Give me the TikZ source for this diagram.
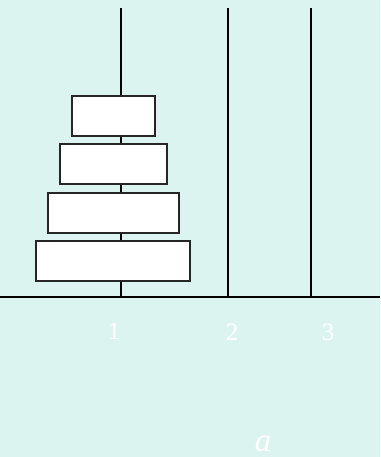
\documentclass[tikz,border=0pt]{standalone}
\usepackage{fontspec}
\setmainfont{Liberation Serif}
\definecolor{bgc}{RGB}{220,244,240}
\begin{document}
\begin{tikzpicture}[x=1pt,y=-1pt,
  disk/.style={draw=black!85,line width=2pt,fill=white,inner sep=0pt,minimum height=40pt},
  pole/.style={line width=2.6pt,black},
  lbl/.style={text=white,font=\fontsize{25}{25}\selectfont,inner sep=0pt}]
\fill[bgc] (0,0) rectangle (380,457);
\useasboundingbox (0,0) rectangle (380,457);
% poles
\coordinate (p1t) at (121,8); \coordinate (p1b) at (121,297);
\coordinate (p2t) at (228,8); \coordinate (p2b) at (228,297);
\coordinate (p3t) at (311,8); \coordinate (p3b) at (311,297);
\coordinate (bl) at (0,297); \coordinate (br) at (380,297);
\draw[pole] (p1t) -- (p1b);
\draw[pole] (p2t) -- (p2b);
\draw[pole] (p3t) -- (p3b);
\draw[line width=2.4pt] (bl) -- (br);
% disks
\node[disk,minimum width=83pt] (d1) at (113,115.8) {};
\node[disk,minimum width=107pt] (d2) at (113,164.3) {};
\node[disk,minimum width=131pt] (d3) at (113,213) {};
\node[disk,minimum width=154pt] (d4) at (112.7,261) {};
% labels
\node[lbl] (l1) at (114,331.5) {1};
\node[lbl] (l2) at (232,332) {2};
\node[lbl] (l3) at (328,332) {3};
\node[text=white,font=\fontsize{33}{33}\selectfont\itshape,inner sep=0pt,text depth=0pt,text height=15pt,anchor=base] (la) at (263,451.5) {a};
\end{tikzpicture}
\end{document}
